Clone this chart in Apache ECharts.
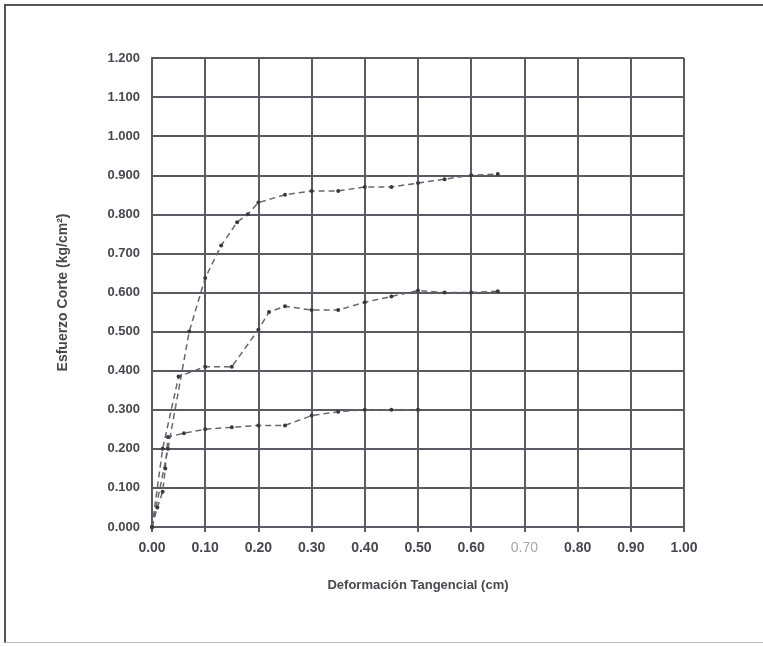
<!DOCTYPE html>
<html>
<head>
<meta charset="utf-8">
<script src="https://cdn.jsdelivr.net/npm/echarts@6/dist/echarts.min.js"></script>
<style>
  html, body { margin: 0; padding: 0; background: #fff; }
  #frame { position: absolute; left: 4px; top: 4px; width: 770px; height: 636px;
           border-left: 2px solid #555; border-top: 2px solid #555; border-bottom: 1px solid #bbb; }
  #chart { position: absolute; left: 0; top: 0; width: 763px; height: 647px; }
</style>
</head>
<body>
<div id="frame"></div>
<div id="chart"></div>
<script>
// Deformación tangencial (cm) vs esfuerzo de corte (kg/cm2)
const xLow = [0, 0.01, 0.02, 0.025, 0.03, 0.06, 0.10, 0.15, 0.20, 0.25, 0.30, 0.35, 0.40, 0.45, 0.50]
const yLow = [0, 0.05, 0.09, 0.15, 0.23, 0.24, 0.25, 0.255, 0.26, 0.26, 0.285, 0.295, 0.30, 0.30, 0.30]

const xMid = [0, 0.02, 0.05, 0.10, 0.15, 0.20, 0.22, 0.25, 0.30, 0.35, 0.40, 0.45, 0.50, 0.55, 0.60, 0.65]
const yMid = [0, 0.20, 0.385, 0.41, 0.41, 0.505, 0.55, 0.565, 0.555, 0.555, 0.575, 0.59, 0.605, 0.60, 0.60, 0.603]

const xHigh = [0, 0.03, 0.07, 0.10, 0.13, 0.16, 0.18, 0.20, 0.25, 0.30, 0.35, 0.40, 0.45, 0.50, 0.55, 0.60, 0.65]
const yHigh = [0, 0.20, 0.50, 0.637, 0.72, 0.78, 0.80, 0.83, 0.85, 0.86, 0.86, 0.87, 0.87, 0.88, 0.89, 0.90, 0.903]

const pairs = (xs, ys) => xs.map((x, i) => [x, ys[i]])

const gridColor = '#5d5862'
const textColor = '#4a4650'
const lineColor = '#6a6670'
const font = 'Liberation Sans, Arial, sans-serif'

function curve(name, xs, ys) {
  return {
    name,
    type: 'line',
    data: pairs(xs, ys),
    symbol: 'circle',
    symbolSize: 4,
    lineStyle: { color: lineColor, width: 1.5, type: [6, 4] },
    itemStyle: { color: '#3c3840' },
  }
}

const chart = echarts.init(document.getElementById('chart'))
chart.setOption({
  animation: false,
  backgroundColor: 'transparent',
  grid: { left: 152, right: 79, top: 58, bottom: 120 },
  xAxis: {
    type: 'value',
    min: 0, max: 1, interval: 0.1,
    name: 'Deformación Tangencial (cm)',
    nameLocation: 'middle',
    nameGap: 52,
    nameTextStyle: { color: textColor, fontSize: 13, fontWeight: 'bold', fontFamily: font },
    axisLine: { show: true, lineStyle: { color: gridColor, width: 2 } },
    axisTick: { show: true, length: 5, lineStyle: { color: gridColor, width: 2 } },
    splitLine: { show: true, lineStyle: { color: gridColor, width: 2 } },
    axisLabel: {
      margin: 14,
      color: textColor, fontSize: 14, fontWeight: 'bold', fontFamily: font,
      formatter(v) {
        const s = v.toFixed(2)
        return Math.abs(v - 0.7) < 1e-6 ? '{faint|' + s + '}' : s
      },
      rich: { faint: { color: '#aaa5ad', fontSize: 14, fontWeight: 'normal', fontFamily: font } },
    },
  },
  yAxis: {
    type: 'value',
    min: 0, max: 1.2, interval: 0.1,
    name: 'Esfuerzo Corte (kg/cm²)',
    nameLocation: 'middle',
    nameGap: 82,
    nameTextStyle: { color: textColor, fontSize: 14, fontWeight: 'bold', fontFamily: font },
    axisLine: { show: true, lineStyle: { color: gridColor, width: 2 } },
    axisTick: { show: false },
    splitLine: { show: true, lineStyle: { color: gridColor, width: 2 } },
    axisLabel: {
      margin: 12,
      color: textColor, fontSize: 13, fontWeight: 'bold', fontFamily: font,
      formatter(v) { return v.toFixed(3) },
    },
  },
  series: [
    curve('Muestra 1', xLow, yLow),
    curve('Muestra 2', xMid, yMid),
    curve('Muestra 3', xHigh, yHigh),
  ],
})
</script>
</body>
</html>
